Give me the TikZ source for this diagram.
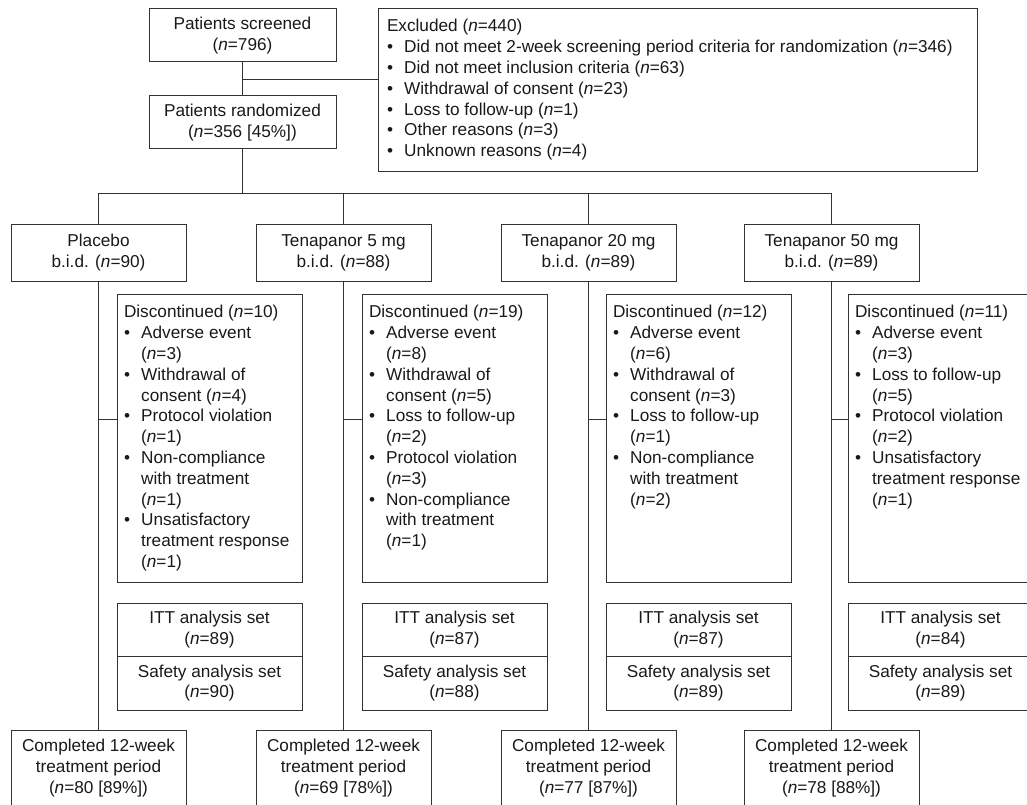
\documentclass[tikz,border=0pt]{standalone}
\usepackage{fontspec}
\setmainfont{Liberation Sans}
\newcommand{\bitem}{\makebox[1em][l]{\textbullet}}
\newcommand{\bcont}{\hspace*{1em}}
\newcommand{\ncount}[1]{(\textit{n}=#1)}
\begin{document}
\begin{tikzpicture}[x=1pt, y=-1pt, line width=1pt, draw=black!80,
  every node/.style={font=\fontsize{17.2}{20.8}\selectfont, text=black!90},
  box/.style={draw=black!80, align=center, inner sep=0pt},
  topbox/.style={box, minimum width=187pt, minimum height=53pt},
  armbox/.style={box, minimum width=175pt, minimum height=57pt},
  discbox/.style={box, minimum width=185pt, minimum height=288pt},
  setbox/.style={box, minimum width=185pt},
  compbox/.style={box, minimum width=175pt, minimum height=76pt},
  listtxt/.style={anchor=north west, align=left, inner xsep=7pt, inner ysep=11.5pt}]
\clip (0,0) rectangle (1027,805);
% screening
\node[topbox] (scr) at (242.5,35.5) {Patients screened\\\ncount{796}};
\node[topbox] (rand) at (242.5,122.5) {Patients randomized\\(\textit{n}=356 [45\%])};
\node[box, minimum width=599pt, minimum height=163pt] (excl) at (677.5,90.5) {};
\node[listtxt, inner xsep=9pt, inner ysep=10.5pt] (excltxt) at (excl.north west) {Excluded \ncount{440}\\
  \bitem Did not meet 2-week screening period criteria for randomization \ncount{346}\\
  \bitem Did not meet inclusion criteria \ncount{63}\\
  \bitem Withdrawal of consent \ncount{23}\\
  \bitem Loss to follow-up \ncount{1}\\
  \bitem Other reasons \ncount{3}\\
  \bitem Unknown reasons \ncount{4}};
% arms
\node[armbox] (pla) at (98.5,252.5) {Placebo\\b.i.d. \ncount{90}};
\node[armbox] (t5) at (343.5,252.5) {Tenapanor 5 mg\\b.i.d. \ncount{88}};
\node[armbox] (t20) at (588.5,252.5) {Tenapanor 20 mg\\b.i.d. \ncount{89}};
\node[armbox] (t50) at (831.5,252.5) {Tenapanor 50 mg\\b.i.d. \ncount{89}};
% discontinued
\node[discbox] (dpla) at (209.5,438) {};
\node[listtxt] (dplatxt) at (dpla.north west) {Discontinued \ncount{10}\\
  \bitem Adverse event\\\bcont\ncount{3}\\
  \bitem Withdrawal of\\\bcont consent \ncount{4}\\
  \bitem Protocol violation\\\bcont\ncount{1}\\
  \bitem Non-compliance\\\bcont with treatment\\\bcont\ncount{1}\\
  \bitem Unsatisfactory\\\bcont treatment response\\\bcont\ncount{1}};
\node[discbox] (dt5) at (454.5,438) {};
\node[listtxt] (dt5txt) at (dt5.north west) {Discontinued \ncount{19}\\
  \bitem Adverse event\\\bcont\ncount{8}\\
  \bitem Withdrawal of\\\bcont consent \ncount{5}\\
  \bitem Loss to follow-up\\\bcont\ncount{2}\\
  \bitem Protocol violation\\\bcont\ncount{3}\\
  \bitem Non-compliance\\\bcont with treatment\\\bcont\ncount{1}};
\node[discbox] (dt20) at (698.5,438) {};
\node[listtxt] (dt20txt) at (dt20.north west) {Discontinued \ncount{12}\\
  \bitem Adverse event\\\bcont\ncount{6}\\
  \bitem Withdrawal of\\\bcont consent \ncount{3}\\
  \bitem Loss to follow-up\\\bcont\ncount{1}\\
  \bitem Non-compliance\\\bcont with treatment\\\bcont\ncount{2}};
\node[discbox] (dt50) at (940.5,438) {};
\node[listtxt] (dt50txt) at (dt50.north west) {Discontinued \ncount{11}\\
  \bitem Adverse event\\\bcont\ncount{3}\\
  \bitem Loss to follow-up\\\bcont\ncount{5}\\
  \bitem Protocol violation\\\bcont\ncount{2}\\
  \bitem Unsatisfactory\\\bcont treatment response\\\bcont\ncount{1}};
% analysis sets
\node[setbox, minimum height=53pt] (ittpla) at (209.5,629.5) {ITT analysis set\\\ncount{89}};
\node[setbox, minimum height=54pt] (safpla) at (209.5,683) {Safety analysis set\\\ncount{90}};
\node[setbox, minimum height=53pt] (ittt5) at (454.5,629.5) {ITT analysis set\\\ncount{87}};
\node[setbox, minimum height=54pt] (saft5) at (454.5,683) {Safety analysis set\\\ncount{88}};
\node[setbox, minimum height=53pt] (ittt20) at (698.5,629.5) {ITT analysis set\\\ncount{87}};
\node[setbox, minimum height=54pt] (saft20) at (698.5,683) {Safety analysis set\\\ncount{89}};
\node[setbox, minimum height=53pt] (ittt50) at (940.5,629.5) {ITT analysis set\\\ncount{84}};
\node[setbox, minimum height=54pt] (saft50) at (940.5,683) {Safety analysis set\\\ncount{89}};
% completed
\node[compbox] (cpla) at (98.5,768) {Completed 12-week\\treatment period\\(\textit{n}=80 [89\%])};
\node[compbox] (ct5) at (343.5,768) {Completed 12-week\\treatment period\\(\textit{n}=69 [78\%])};
\node[compbox] (ct20) at (588.5,768) {Completed 12-week\\treatment period\\(\textit{n}=77 [87\%])};
\node[compbox] (ct50) at (831.5,768) {Completed 12-week\\treatment period\\(\textit{n}=78 [88\%])};
% connectors
\draw (scr) -- (rand);
\coordinate (excljoin) at (242.5,80);
\draw (excljoin) -- (excljoin -| excl.west);
\coordinate (split) at (242.5,193);
\draw (rand) -- (split);
\draw (pla.north) -- (pla.north |- split) -- (t50.north |- split) -- (t50.north);
\foreach \a in {t5,t20} \draw (\a.north) -- (\a.north |- split);
\foreach \a in {pla,t5,t20,t50} {
  \draw (\a.south) -- (c\a.north);
  \draw ([yshift=19pt]d\a.west) -- ([yshift=19pt]d\a.west -| \a.south);
}
\end{tikzpicture}
\end{document}
